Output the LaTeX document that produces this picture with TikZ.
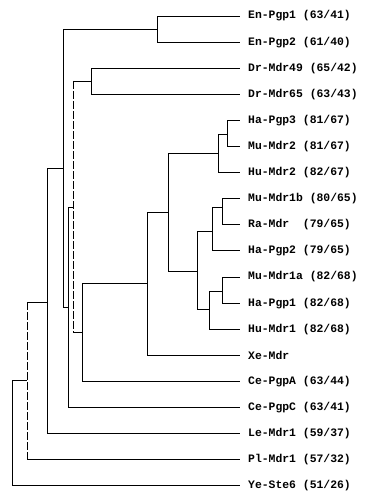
\documentclass[tikz,border=0pt]{standalone}
\usepackage{fontspec}
\setmonofont{Liberation Mono}
\tikzset{
  leaf/.style={anchor=west,inner xsep=8pt,inner ysep=0pt,
    font=\ttfamily\bfseries\fontsize{11.4}{13}\selectfont},
  branch/.style={line width=0.9pt,black},
  brokenbranch/.style={branch,dash pattern=on 8pt off 2pt}
}

\begin{document}
\begin{tikzpicture}[x=1pt,y=-1pt]
  \useasboundingbox (0,0) rectangle (374,500);
  % leaves
  \node[leaf] (EnPgpA) at (240,16) {En-Pgp1 (63/41)};
  \node[leaf] (EnPgpB) at (240,42.1) {En-Pgp2 (61/40)};
  \node[leaf] (DrMdrA) at (240,68.2) {Dr-Mdr49 (65/42)};
  \node[leaf] (DrMdrB) at (240,94.3) {Dr-Mdr65 (63/43)};
  \node[leaf] (HaPgpC) at (240,120.4) {Ha-Pgp3 (81/67)};
  \node[leaf] (MuMdrB) at (240,146.5) {Mu-Mdr2 (81/67)};
  \node[leaf] (HuMdrB) at (240,172.6) {Hu-Mdr2 (82/67)};
  \node[leaf] (MuMdrAb) at (240,198.7) {Mu-Mdr1b (80/65)};
  \node[leaf] (RaMdr) at (240,224.8) {Ra-Mdr~ (79/65)};
  \node[leaf] (HaPgpB) at (240,250.9) {Ha-Pgp2 (79/65)};
  \node[leaf] (MuMdrAa) at (240,277) {Mu-Mdr1a (82/68)};
  \node[leaf] (HaPgpA) at (240,303.1) {Ha-Pgp1 (82/68)};
  \node[leaf] (HuMdrA) at (240,329.2) {Hu-Mdr1 (82/68)};
  \node[leaf] (XeMdr) at (240,355.3) {Xe-Mdr};
  \node[leaf] (CePgpA) at (240,381.4) {Ce-PgpA (63/44)};
  \node[leaf] (CePgpC) at (240,407.5) {Ce-PgpC (63/41)};
  \node[leaf] (LeMdr) at (240,433.6) {Le-Mdr1 (59/37)};
  \node[leaf] (PlMdr) at (240,459.7) {Pl-Mdr1 (57/32)};
  \node[leaf] (YeSte) at (240,485.8) {Ye-Ste6 (51/26)};
  % internal nodes
  \coordinate (root) at (12,380);
  \coordinate (nPl) at (27,380);
  \coordinate (nLe) at (47,302);
  \coordinate (nInv) at (63,168);
  \coordinate (nEn) at (157,29);
  \coordinate (nCeC) at (68,307);
  \coordinate (nDrG) at (73,207);
  \coordinate (nDr) at (91,81);
  \coordinate (nCeA) at (82,332);
  \coordinate (nXe) at (147,283);
  \coordinate (nMam) at (168,212);
  \coordinate (nMdrB) at (218,153);
  \coordinate (nPgpC) at (227,134);
  \coordinate (nMdrA) at (197,271);
  \coordinate (nPgpB) at (212,231);
  \coordinate (nRa) at (222,207);
  \coordinate (nHuA) at (209,309);
  \coordinate (nPgpA) at (222,291);
  % branches
  \draw[branch] (root) |- (nPl);
  \draw[branch] (root) |- (YeSte.west);
  \draw[brokenbranch] (nPl |- nLe) -- (nPl |- PlMdr.west);
  \draw[branch] (nPl |- nLe) -- (nLe);
  \draw[branch] (nPl |- PlMdr.west) -- (PlMdr.west);
  \draw[branch] (nLe) |- (nInv);
  \draw[branch] (nLe) |- (LeMdr.west);
  \draw[branch] (nInv) |- (nEn);
  \draw[branch] (nInv) |- (nCeC);
  \draw[branch] (nEn) |- (EnPgpA.west);
  \draw[branch] (nEn) |- (EnPgpB.west);
  \draw[branch] (nCeC) |- (nDrG);
  \draw[branch] (nCeC) |- (CePgpC.west);
  \draw[brokenbranch] (nDrG |- nDr) -- (nDrG |- nCeA);
  \draw[branch] (nDrG |- nDr) -- (nDr);
  \draw[branch] (nDrG |- nCeA) -- (nCeA);
  \draw[branch] (nDr) |- (DrMdrA.west);
  \draw[branch] (nDr) |- (DrMdrB.west);
  \draw[branch] (nCeA) |- (nXe);
  \draw[branch] (nCeA) |- (CePgpA.west);
  \draw[branch] (nXe) |- (nMam);
  \draw[branch] (nXe) |- (XeMdr.west);
  \draw[branch] (nMam) |- (nMdrB);
  \draw[branch] (nMam) |- (nMdrA);
  \draw[branch] (nMdrB) |- (nPgpC);
  \draw[branch] (nMdrB) |- (HuMdrB.west);
  \draw[branch] (nPgpC) |- (HaPgpC.west);
  \draw[branch] (nPgpC) |- (MuMdrB.west);
  \draw[branch] (nMdrA) |- (nPgpB);
  \draw[branch] (nMdrA) |- (nHuA);
  \draw[branch] (nPgpB) |- (nRa);
  \draw[branch] (nPgpB) |- (HaPgpB.west);
  \draw[branch] (nRa) |- (MuMdrAb.west);
  \draw[branch] (nRa) |- (RaMdr.west);
  \draw[branch] (nHuA) |- (nPgpA);
  \draw[branch] (nHuA) |- (HuMdrA.west);
  \draw[branch] (nPgpA) |- (MuMdrAa.west);
  \draw[branch] (nPgpA) |- (HaPgpA.west);
\end{tikzpicture}
\end{document}
